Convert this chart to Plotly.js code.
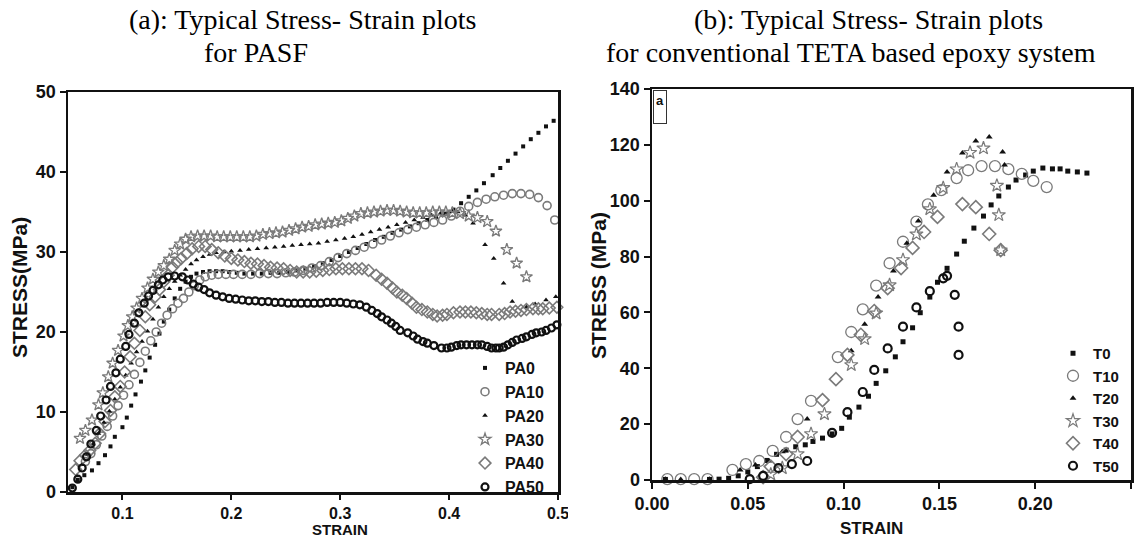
<!DOCTYPE html>
<html>
<head>
<meta charset="utf-8">
<script src="https://cdn.plot.ly/plotly-3.0.1.min.js"></script>
<style>html,body{margin:0;padding:0;background:#fff;}#chart{width:1143px;height:539px;}</style>
</head>
<body>
<div id="chart"></div>
<script>
// ---------- Panel (a): PASF ----------
const pa0x = [0.054,0.059,0.065,0.072,0.078,0.084,0.089,0.093,0.1,0.104,0.108,0.112,0.117,0.121,0.125,0.13,0.134,0.138,0.143,0.148,0.153,0.158,0.163,0.168,0.174,0.18,0.186,0.192,0.198,0.205,0.212,0.22,0.228,0.236,0.244,0.252,0.26,0.268,0.276,0.284,0.292,0.3,0.308,0.316,0.324,0.332,0.34,0.348,0.356,0.364,0.372,0.38,0.388,0.396,0.404,0.411,0.418,0.425,0.432,0.44,0.447,0.454,0.461,0.468,0.475,0.482,0.489,0.496];
const pa0y = [0.6,1.5,2.1,2.7,3.6,4.6,5.7,6.9,8.1,9.3,10.8,12.2,13.8,15.2,16.8,18.4,19.8,21.3,22.8,24.2,25.4,26.3,26.9,27.3,27.5,27.6,27.6,27.6,27.5,27.4,27.3,27.3,27.3,27.4,27.4,27.5,27.7,27.9,28.2,28.6,29.0,29.5,30.0,30.5,31.0,31.5,31.9,32.4,32.8,33.2,33.6,34.0,34.4,34.8,35.3,36.1,36.9,37.7,38.6,39.6,40.5,41.4,42.3,43.2,44.1,44.9,45.7,46.4];

const pa10x = [0.066,0.071,0.076,0.081,0.086,0.091,0.096,0.101,0.106,0.111,0.116,0.121,0.126,0.131,0.136,0.141,0.146,0.151,0.156,0.161,0.166,0.171,0.176,0.182,0.188,0.195,0.202,0.21,0.218,0.226,0.234,0.242,0.25,0.258,0.266,0.274,0.282,0.29,0.298,0.306,0.314,0.322,0.33,0.338,0.346,0.354,0.362,0.37,0.378,0.386,0.394,0.402,0.41,0.418,0.426,0.434,0.442,0.45,0.458,0.466,0.474,0.482,0.49,0.497];
const pa10y = [3.8,4.8,5.9,7.0,8.2,9.5,10.8,12.1,13.4,14.7,16.2,17.6,18.9,20.0,21.1,22.1,22.9,23.6,24.2,25.0,25.8,26.5,26.9,27.1,27.2,27.2,27.2,27.2,27.2,27.3,27.3,27.3,27.4,27.5,27.7,28.0,28.3,28.8,29.3,29.8,30.2,30.6,31.0,31.5,32.0,32.4,32.8,33.1,33.4,33.7,34.0,34.5,35.1,35.7,36.2,36.6,36.9,37.1,37.3,37.3,37.2,36.8,35.8,34.0];

const pa20x = [0.058,0.063,0.068,0.073,0.078,0.083,0.088,0.093,0.098,0.103,0.108,0.113,0.118,0.123,0.128,0.133,0.138,0.143,0.148,0.153,0.158,0.163,0.168,0.174,0.18,0.186,0.193,0.2,0.208,0.216,0.224,0.232,0.24,0.248,0.256,0.264,0.272,0.28,0.288,0.296,0.304,0.312,0.32,0.328,0.336,0.344,0.352,0.36,0.368,0.376,0.384,0.392,0.4,0.408,0.415,0.422,0.433,0.441,0.45,0.458,0.471,0.479,0.489,0.498];
const pa20y = [2.0,3.4,4.7,6.0,7.3,8.7,10.1,11.6,13.1,14.6,16.1,17.5,18.8,20.1,21.6,23.1,24.4,25.4,26.3,27.1,27.8,28.5,29.0,29.4,29.7,29.9,30.0,30.1,30.2,30.3,30.4,30.5,30.6,30.7,30.8,30.9,31.0,31.1,31.3,31.5,31.7,31.9,32.2,32.5,32.8,33.1,33.4,33.7,34.0,34.3,34.6,34.8,35.0,35.0,34.6,33.6,30.9,29.2,26.1,23.8,23.1,23.5,24.0,24.4];

const pa30x = [0.061,0.066,0.072,0.078,0.082,0.087,0.091,0.096,0.101,0.105,0.109,0.113,0.118,0.123,0.128,0.133,0.138,0.143,0.148,0.153,0.158,0.163,0.169,0.175,0.181,0.187,0.193,0.199,0.205,0.211,0.217,0.223,0.229,0.235,0.241,0.247,0.253,0.259,0.265,0.271,0.277,0.283,0.289,0.295,0.301,0.307,0.313,0.319,0.325,0.331,0.337,0.343,0.349,0.355,0.361,0.367,0.373,0.379,0.385,0.391,0.397,0.403,0.41,0.418,0.426,0.435,0.443,0.453,0.462,0.471];
const pa30y = [6.7,7.7,9.0,10.9,12.4,14.4,16.1,17.7,19.5,20.8,21.9,23.0,24.2,25.5,26.6,27.5,28.3,29.1,30.2,31.0,31.6,31.9,32.0,32.0,32.0,31.9,31.9,31.9,31.9,31.9,31.9,32.0,32.2,32.3,32.4,32.5,32.7,32.9,33.1,33.2,33.4,33.5,33.6,33.7,33.9,34.2,34.5,34.8,34.9,35.0,35.1,35.2,35.2,35.1,35.0,34.9,34.9,34.9,35.0,35.0,35.0,34.9,34.8,34.5,34.3,33.8,32.6,30.3,28.6,26.9];

const pa40x = [0.057,0.061,0.066,0.07,0.075,0.079,0.084,0.089,0.093,0.098,0.102,0.107,0.111,0.116,0.121,0.125,0.13,0.134,0.138,0.142,0.146,0.15,0.154,0.159,0.164,0.17,0.176,0.182,0.188,0.194,0.2,0.206,0.212,0.218,0.224,0.23,0.236,0.242,0.248,0.254,0.26,0.266,0.272,0.278,0.284,0.29,0.296,0.302,0.308,0.314,0.32,0.326,0.333,0.338,0.343,0.348,0.352,0.357,0.361,0.366,0.37,0.375,0.38,0.385,0.389,0.394,0.398,0.404,0.41,0.415,0.42,0.425,0.43,0.435,0.439,0.446,0.451,0.456,0.461,0.466,0.471,0.477,0.482,0.486,0.492,0.499];
const pa40y = [2.8,3.9,4.6,5.2,6.1,7.3,8.8,10.2,11.9,13.2,15.0,16.9,18.6,20.2,21.9,23.4,24.4,25.3,26.3,27.1,28.1,28.7,29.2,29.8,30.4,30.7,30.7,30.3,29.9,29.5,29.2,29.0,28.8,28.6,28.5,28.3,28.1,28.0,27.9,27.7,27.5,27.5,27.5,27.6,27.7,27.8,27.9,27.9,27.9,27.9,27.9,27.7,27.1,26.6,26.1,25.5,25.0,24.6,24.2,23.6,23.1,22.8,22.5,22.2,22.0,22.1,22.2,22.4,22.5,22.5,22.5,22.4,22.3,22.2,22.2,22.2,22.3,22.5,22.6,22.7,22.8,22.9,22.9,22.9,23.0,23.1];

const pa50x = [0.054,0.059,0.063,0.067,0.071,0.076,0.08,0.085,0.089,0.094,0.098,0.103,0.106,0.111,0.115,0.12,0.124,0.128,0.133,0.137,0.142,0.148,0.155,0.16,0.165,0.17,0.175,0.18,0.186,0.192,0.198,0.204,0.21,0.216,0.222,0.228,0.234,0.24,0.246,0.252,0.258,0.264,0.27,0.276,0.282,0.288,0.294,0.3,0.306,0.312,0.318,0.324,0.329,0.334,0.338,0.343,0.347,0.351,0.355,0.362,0.367,0.371,0.376,0.38,0.386,0.393,0.398,0.402,0.407,0.411,0.416,0.421,0.426,0.43,0.435,0.439,0.443,0.446,0.45,0.454,0.458,0.462,0.467,0.471,0.476,0.48,0.485,0.489,0.494,0.499];
const pa50y = [0.5,1.6,3.0,4.4,6.0,7.7,9.5,11.5,13.2,14.9,16.6,18.2,19.7,21.1,22.4,23.6,24.5,25.2,25.9,26.5,26.9,27.0,26.9,26.5,26.0,25.6,25.3,24.9,24.6,24.4,24.2,24.1,24.0,23.9,23.9,23.8,23.8,23.7,23.7,23.6,23.6,23.6,23.6,23.6,23.6,23.7,23.7,23.7,23.6,23.5,23.4,23.1,22.7,22.3,21.9,21.5,21.1,20.7,20.2,19.9,19.5,19.1,18.8,18.6,18.3,18.0,18.0,18.1,18.3,18.4,18.4,18.4,18.4,18.4,18.2,18.0,18.0,18.0,18.1,18.4,18.7,19.0,19.2,19.4,19.7,19.9,20.0,20.2,20.5,20.9];

// ---------- Panel (b): TETA epoxy ----------
const t0x = [0.007,0.03,0.035,0.04,0.045,0.05,0.055,0.06,0.065,0.07,0.075,0.08,0.084,0.089,0.094,0.099,0.103,0.108,0.113,0.117,0.122,0.127,0.131,0.136,0.14,0.145,0.149,0.154,0.159,0.163,0.168,0.173,0.177,0.181,0.186,0.19,0.195,0.199,0.204,0.209,0.213,0.217,0.222,0.227];
const t0y = [0.2,0.2,0.3,0.6,1.5,2.9,4.8,7.0,9.2,10.7,11.9,12.6,13.8,15.0,16.5,18.5,22.5,26.1,30.0,34.6,39.1,44.1,49.5,54.5,59.9,65.5,70.8,75.8,80.9,85.5,90.2,94.5,98.5,101.7,104.9,107.4,109.2,110.6,111.7,111.4,111.4,110.6,110.3,109.9];

const t10x = [0.008,0.015,0.022,0.029,0.042,0.049,0.056,0.063,0.07,0.076,0.083,0.097,0.104,0.11,0.117,0.124,0.131,0.138,0.144,0.151,0.159,0.165,0.172,0.179,0.186,0.193,0.199,0.206];
const t10y = [0.3,0.3,0.3,0.3,3.6,5.7,6.8,10.4,15.4,21.8,28.3,44.0,53.0,61.1,69.6,77.6,85.3,92.5,98.7,103.8,108.1,110.9,112.4,112.4,111.3,109.6,107.1,104.9];

const t20x = [0.007,0.015,0.03,0.046,0.054,0.061,0.068,0.081,0.104,0.111,0.118,0.126,0.133,0.139,0.147,0.154,0.162,0.169,0.176,0.183,0.184];
const t20y = [0.3,0.2,0.3,3.6,5.4,6.8,10.1,21.8,46.3,55.8,65.5,74.8,84.8,92.7,102.0,110.3,117.1,121.4,122.8,117.4,112.8];

const t30x = [0.062,0.068,0.076,0.083,0.09,0.104,0.111,0.117,0.124,0.131,0.138,0.145,0.152,0.159,0.166,0.173,0.18,0.181,0.182];
const t30y = [2.0,4.3,9.3,16.5,23.6,41.2,50.5,59.7,69.8,78.8,88.0,97.0,104.6,111.3,117.2,118.8,105.4,94.9,82.3];

const t40x = [0.058,0.062,0.07,0.076,0.089,0.096,0.102,0.109,0.116,0.123,0.13,0.136,0.142,0.149,0.162,0.169,0.176,0.182];
const t40y = [1.0,4.8,9.3,15.4,28.6,36.1,44.8,52.0,60.5,68.7,75.9,83.1,88.8,94.2,98.8,97.7,88.1,82.3];

const t50x = [0.051,0.058,0.066,0.073,0.081,0.094,0.102,0.11,0.116,0.123,0.131,0.138,0.145,0.152,0.154,0.158,0.16,0.16];
const t50y = [0.3,1.5,4.3,5.7,6.8,16.9,24.3,31.5,39.4,47.1,54.9,61.8,67.6,72.2,73.1,66.3,54.9,44.8];

// ---------- styling ----------
const BLACK = '#111111';
const GRAY = '#7a7a7a';
const SANS = 'Liberation Sans, Arial, sans-serif';
const SERIF = 'Liberation Serif, Times New Roman, serif';

function tr(name, x, y, xa, ya, leg, symbol, size, color, lw) {
  return {
    type: 'scatter', mode: 'markers', name: name, x: x, y: y,
    xaxis: xa, yaxis: ya, legend: leg, cliponaxis: false,
    marker: {symbol: symbol, size: size, color: color, line: {color: color, width: lw}}
  };
}

const data = [
  tr('PA0', pa0x, pa0y, 'x', 'y', 'legend', 'square', 4, BLACK, 0),
  tr('PA10', pa10x, pa10y, 'x', 'y', 'legend', 'circle-open', 8, GRAY, 1.6),
  tr('PA20', pa20x, pa20y, 'x', 'y', 'legend', 'triangle-up', 5, BLACK, 0),
  tr('PA30', pa30x, pa30y, 'x', 'y', 'legend', 'star-open', 9, GRAY, 1.3),
  tr('PA40', pa40x, pa40y, 'x', 'y', 'legend', 'diamond-open', 9, GRAY, 1.6),
  tr('PA50', pa50x, pa50y, 'x', 'y', 'legend', 'circle-open', 7, BLACK, 2.2),
  tr('T0', t0x, t0y, 'x2', 'y2', 'legend2', 'square', 5, BLACK, 0),
  tr('T10', t10x, t10y, 'x2', 'y2', 'legend2', 'circle-open', 11, GRAY, 1.3),
  tr('T20', t20x, t20y, 'x2', 'y2', 'legend2', 'triangle-up', 6, BLACK, 0),
  tr('T30', t30x, t30y, 'x2', 'y2', 'legend2', 'star-open', 10, GRAY, 1.2),
  tr('T40', t40x, t40y, 'x2', 'y2', 'legend2', 'diamond-open', 10, GRAY, 1.6),
  tr('T50', t50x, t50y, 'x2', 'y2', 'legend2', 'circle-open', 8, BLACK, 2.2)
];

const W = 1143, H = 539;
const px = v => v / W;
const py = v => (H - v) / H;

const tickFont = {family: SANS, size: 18, color: BLACK, weight: 'bold'};
const axisBase = {
  showgrid: false, zeroline: false, showline: true, mirror: true,
  linecolor: BLACK, linewidth: 2.5, ticks: 'outside', ticklen: 6, tickwidth: 2,
  tickcolor: BLACK, tickfont: tickFont, fixedrange: true
};
const titleFont = {family: SERIF, size: 28, color: '#000'};
const labFont = {family: SANS, size: 21, color: BLACK, weight: 'bold'};

const layout = {
  width: W, height: H,
  margin: {l: 0, r: 0, t: 0, b: 0},
  paper_bgcolor: '#ffffff', plot_bgcolor: '#ffffff',
  showlegend: true,
  xaxis: Object.assign({}, axisBase, {domain: [px(68), px(558)], range: [0.05, 0.5], anchor: 'y',
    ticklen: 5, tickfont: {family: SANS, size: 16, color: BLACK, weight: 'bold'},
    tickvals: [0.1, 0.2, 0.3, 0.4, 0.5], ticktext: ['0.1', '0.2', '0.3', '0.4', '0.5']}),
  yaxis: Object.assign({}, axisBase, {domain: [py(492), py(92)], range: [0, 50], anchor: 'x', dtick: 10}),
  xaxis2: Object.assign({}, axisBase, {domain: [px(652), px(1131)], range: [0, 0.25], anchor: 'y2',
    dtick: 0.05, tick0: 0, tickformat: '.2f'}),
  yaxis2: Object.assign({}, axisBase, {domain: [py(480), py(89)], range: [0, 140], anchor: 'x2', dtick: 20}),
  legend: {x: px(465), y: py(351), xanchor: 'left', yanchor: 'top', bgcolor: 'rgba(0,0,0,0)',
    font: {family: SANS, size: 16, color: BLACK, weight: 'bold'}, tracegroupgap: 0, itemclick: false},
  legend2: {x: px(1053), y: py(337), xanchor: 'left', yanchor: 'top', bgcolor: 'rgba(0,0,0,0)',
    font: {family: SANS, size: 15, color: BLACK, weight: 'bold'}, tracegroupgap: 0, itemclick: false},
  shapes: [
    {type: 'rect', xref: 'paper', yref: 'paper', x0: px(568), x1: px(590), y0: py(530), y1: py(498),
      fillcolor: '#ffffff', line: {width: 0}, layer: 'above'}
  ],
  annotations: [
    {text: '(a): Typical Stress- Strain plots', xref: 'paper', yref: 'paper', x: px(302), y: py(20),
      xanchor: 'center', yanchor: 'middle', showarrow: false, font: titleFont},
    {text: 'for PASF', xref: 'paper', yref: 'paper', x: px(256), y: py(52),
      xanchor: 'center', yanchor: 'middle', showarrow: false, font: titleFont},
    {text: '(b): Typical Stress- Strain plots', xref: 'paper', yref: 'paper', x: px(868), y: py(20),
      xanchor: 'center', yanchor: 'middle', showarrow: false, font: titleFont},
    {text: 'for conventional TETA based epoxy system', xref: 'paper', yref: 'paper', x: px(851), y: py(52),
      xanchor: 'center', yanchor: 'middle', showarrow: false, font: titleFont},
    {text: 'STRESS(MPa)', xref: 'paper', yref: 'paper', x: px(19), y: py(288), textangle: -90,
      xanchor: 'center', yanchor: 'middle', showarrow: false, font: labFont},
    {text: 'STRAIN', xref: 'paper', yref: 'paper', x: px(340), y: 0, borderpad: 0,
      xanchor: 'center', yanchor: 'bottom', showarrow: false, font: {family: SANS, size: 15, color: BLACK, weight: 'bold'}},
    {text: 'STRESS (MPa)', xref: 'paper', yref: 'paper', x: px(598), y: py(285), textangle: -90,
      xanchor: 'center', yanchor: 'middle', showarrow: false, font: labFont},
    {text: 'STRAIN', xref: 'paper', yref: 'paper', x: px(871), y: py(528),
      xanchor: 'center', yanchor: 'middle', showarrow: false, font: {family: SANS, size: 17, color: BLACK, weight: 'bold'}},
    {text: 'a', xref: 'x2 domain', yref: 'y2 domain', x: 0.003, y: 0.997, xanchor: 'left', yanchor: 'top',
      showarrow: false, bordercolor: '#333', borderwidth: 1, borderpad: 2, bgcolor: '#fff',
      font: {family: SANS, size: 13, color: BLACK, weight: 'bold'}, height: 28, width: 8, valign: 'top'}
  ]
};

Plotly.newPlot('chart', data, layout, {staticPlot: true, displayModeBar: false});
</script>
</body>
</html>
